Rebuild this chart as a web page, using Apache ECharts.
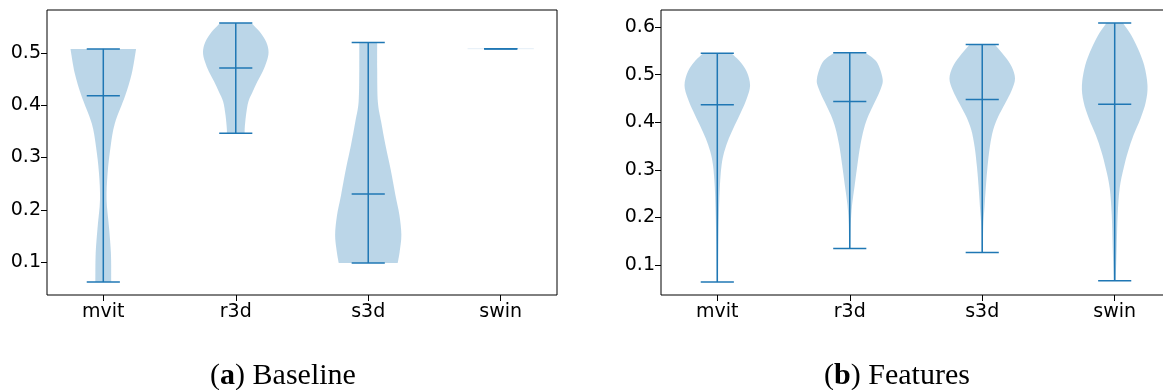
<!DOCTYPE html>
<html>
<head>
<meta charset="utf-8">
<script src="https://cdn.jsdelivr.net/npm/echarts@6/dist/echarts.min.js"></script>
<style>
  html, body { margin: 0; padding: 0; background: #fff; }
  #chart { width: 1163px; height: 390px; }
  #dbg { position: absolute; left: 0; top: 0; font: 10px monospace; color: red; white-space: pre; }
</style>
</head>
<body>
<div id="chart"></div>
<div id="dbg"></div>
<script>
// ---------------- DATA ----------------
const categories = ['mvit', 'r3d', 's3d', 'swin'];

// Panel (a) Baseline: min / mean / max per model
const baselineMin  = [0.0618, 0.3461, 0.0981, 0.508];
const baselineMean = [0.4179, 0.4710, 0.2300, 0.508];
const baselineMax  = [0.5076, 0.5572, 0.5197, 0.508];

// Panel (b) Features: min / mean / max per model
const featuresMin  = [0.0643, 0.1348, 0.1264, 0.0671];
const featuresMean = [0.4365, 0.4434, 0.4476, 0.4378];
const featuresMax  = [0.5447, 0.5460, 0.5629, 0.6084];

// Violin outlines: [value, relative half-width (1 = widest)], from top to bottom
const baselineMvit = [[0.5076,0.99],[0.4606,0.86],[0.4179,0.66],[0.3652,0.35],[0.3206,0.22],[0.2698,0.13],[0.2189,0.10],[0.1680,0.17],[0.1172,0.23],[0.0618,0.24]];
const baselineR3d  = [[0.5572,0.47],[0.540,0.73],[0.521,0.92],[0.5019,0.99],[0.4828,0.93],[0.4637,0.81],[0.4446,0.65],[0.4256,0.51],[0.4065,0.38],[0.3811,0.31],[0.3556,0.27],[0.3461,0.27]];
const baselineS3d  = [[0.5197,0.27],[0.4701,0.27],[0.4065,0.29],[0.3683,0.39],[0.3238,0.52],[0.2793,0.67],[0.2284,0.82],[0.1903,0.94],[0.1521,1.0],[0.1203,0.95],[0.0981,0.89]];
const baselineSwin = [[0.508,1.0],[0.508,1.0]];

const featuresMvit = [[0.5447,0.43],[0.5267,0.69],[0.5057,0.89],[0.4778,0.99],[0.4499,0.89],[0.4219,0.72],[0.3940,0.53],[0.3661,0.35],[0.3381,0.21],[0.3102,0.13],[0.2683,0.08],[0.2124,0.05],[0.1426,0.03],[0.0643,0.02]];
const featuresR3d  = [[0.5460,0.47],[0.5267,0.81],[0.4918,0.99],[0.4708,0.94],[0.4429,0.76],[0.4150,0.57],[0.3870,0.43],[0.3521,0.32],[0.3102,0.23],[0.2683,0.15],[0.2264,0.07],[0.1845,0.03],[0.1348,0.02]];
const featuresS3d  = [[0.5629,0.38],[0.5372,0.69],[0.5162,0.89],[0.4918,0.99],[0.4673,0.89],[0.4394,0.69],[0.4115,0.48],[0.3835,0.33],[0.3486,0.23],[0.3067,0.16],[0.2648,0.11],[0.2229,0.07],[0.1810,0.03],[0.1264,0.02]];
const featuresSwin = [[0.6084,0.25],[0.5826,0.50],[0.5546,0.70],[0.5197,0.89],[0.4778,0.99],[0.4429,0.94],[0.4080,0.78],[0.3731,0.57],[0.3381,0.40],[0.3032,0.27],[0.2613,0.15],[0.2055,0.09],[0.1356,0.06],[0.0671,0.03]];

const baselineProfiles = [baselineMvit, baselineR3d, baselineS3d, baselineSwin];
const featuresProfiles = [featuresMvit, featuresR3d, featuresS3d, featuresSwin];

const yTicksBaseline = [0.1, 0.2, 0.3, 0.4, 0.5];
const yTicksFeatures = [0.1, 0.2, 0.3, 0.4, 0.5, 0.6];
const xTicks = [1, 2, 3, 4];

// ---------------- STYLE ----------------
const LINE = '#1f77b4';
const FILL = 'rgba(31,119,180,0.3)';
const TICK_FONT = 'DejaVu Sans';

function yLimits(mins, maxs) {
  const lo = Math.min(...mins), hi = Math.max(...maxs);
  const r = hi - lo;
  return [lo - 0.05 * r, hi + 0.05 * r];
}

// Smooth curve (Catmull-Rom as cubic Beziers) through already-projected pixel points
function curveThrough(pts) {
  let d = '';
  for (let i = 0; i < pts.length - 1; i++) {
    const p0 = pts[i - 1] || pts[i], p1 = pts[i], p2 = pts[i + 1], p3 = pts[i + 2] || pts[i + 1];
    const c1 = [p1[0] + (p2[0] - p0[0]) / 6, p1[1] + (p2[1] - p0[1]) / 6];
    const c2 = [p2[0] - (p3[0] - p1[0]) / 6, p2[1] - (p3[1] - p1[1]) / 6];
    d += ' C' + c1[0].toFixed(2) + ' ' + c1[1].toFixed(2) + ' ' + c2[0].toFixed(2) + ' ' + c2[1].toFixed(2) + ' ' + p2[0].toFixed(2) + ' ' + p2[1].toFixed(2);
  }
  return d;
}

function makeRenderItem(profiles, mins, means, maxs) {
  return function (params, api) {
    const k = params.dataIndex;
    const pos = xTicks[k];
    const prof = profiles[k];
    const half = 0.25, barHalf = 0.125;
    const children = [];
    const flat = prof.every(p => p[0] === prof[0][0]);
    if (flat) {
      const a = api.coord([pos - half, prof[0][0]]);
      const b = api.coord([pos + half, prof[0][0]]);
      children.push({ type: 'line', shape: { x1: a[0], y1: a[1], x2: b[0], y2: b[1] },
        style: { stroke: 'rgba(31,119,180,0.12)', lineWidth: 1 } });
    } else {
      const right = prof.map(p => api.coord([pos + half * p[1], p[0]]));
      const left = prof.slice().reverse().map(p => api.coord([pos - half * p[1], p[0]]));
      const d = 'M' + right[0][0].toFixed(2) + ' ' + right[0][1].toFixed(2) + curveThrough(right) +
        ' L' + left[0][0].toFixed(2) + ' ' + left[0][1].toFixed(2) + curveThrough(left) + ' Z';
      children.push({ type: 'path', shape: { pathData: d }, style: { fill: FILL } });
    }
    const top = api.coord([pos, maxs[k]]);
    const bot = api.coord([pos, mins[k]]);
    children.push({ type: 'line', shape: { x1: top[0], y1: top[1], x2: bot[0], y2: bot[1] },
      style: { stroke: LINE, lineWidth: 1.5 } });
    [mins[k], means[k], maxs[k]].forEach(v => {
      const a = api.coord([pos - barHalf, v]);
      const b = api.coord([pos + barHalf, v]);
      children.push({ type: 'line', shape: { x1: a[0], y1: a[1], x2: b[0], y2: b[1] },
        style: { stroke: LINE, lineWidth: 1.5 } });
    });
    return { type: 'group', children };
  };
}

const limA = yLimits(baselineMin, baselineMax);
const limB = yLimits(featuresMin, featuresMax);

function xAxisFor(gridIndex) {
  return {
    type: 'value', gridIndex, min: 0.575, max: 4.425,
    axisLine: { show: false },
    splitLine: { show: false },
    axisTick: { show: true, customValues: xTicks, length: 6, inside: false, lineStyle: { color: '#000', width: 1 } },
    axisLabel: { show: true, customValues: xTicks, margin: 8, color: '#000', fontFamily: TICK_FONT, fontSize: 19,
      formatter: v => categories[Math.round(v) - 1] || '' }
  };
}
function yAxisFor(gridIndex, lim, ticks) {
  return {
    type: 'value', gridIndex, min: lim[0], max: lim[1],
    axisLine: { show: false },
    splitLine: { show: false },
    axisTick: { show: true, customValues: ticks, length: 6, lineStyle: { color: '#000', width: 1 } },
    axisLabel: { show: true, customValues: ticks, margin: 6, color: '#000', fontFamily: TICK_FONT, fontSize: 19,
      formatter: v => v.toFixed(1) }
  };
}

const option = {
  animation: false,
  backgroundColor: '#fff',
  grid: [
    { left: 47, top: 10, width: 510, height: 285, outerBoundsMode: 'none', containLabel: false, show: true, borderColor: '#000', borderWidth: 1, backgroundColor: 'transparent' },
    { left: 661, top: 10, width: 510, height: 285, outerBoundsMode: 'none', containLabel: false, show: true, borderColor: '#000', borderWidth: 1, backgroundColor: 'transparent' }
  ],
  xAxis: [xAxisFor(0), xAxisFor(1)],
  yAxis: [yAxisFor(0, limA, yTicksBaseline), yAxisFor(1, limB, yTicksFeatures)],
  graphic: [
    { type: 'text', x: 283, y: 376,
      style: { text: '{p|(}{b|a}{p|) Baseline}', align: 'center', verticalAlign: 'middle',
        rich: { p: { fontFamily: 'Liberation Serif', fontSize: 30, fill: '#000' },
                b: { fontFamily: 'Liberation Serif', fontSize: 30, fontWeight: 'bold', fill: '#000' } } } },
    { type: 'text', x: 897, y: 376,
      style: { text: '{p|(}{b|b}{p|) Features}', align: 'center', verticalAlign: 'middle',
        rich: { p: { fontFamily: 'Liberation Serif', fontSize: 30, fill: '#000' },
                b: { fontFamily: 'Liberation Serif', fontSize: 30, fontWeight: 'bold', fill: '#000' } } } }
  ],
  series: [
    { type: 'custom', xAxisIndex: 0, yAxisIndex: 0, clip: false,
      renderItem: makeRenderItem(baselineProfiles, baselineMin, baselineMean, baselineMax),
      data: xTicks.map((x, i) => [x, baselineMean[i]]) },
    { type: 'custom', xAxisIndex: 1, yAxisIndex: 1, clip: false,
      renderItem: makeRenderItem(featuresProfiles, featuresMin, featuresMean, featuresMax),
      data: xTicks.map((x, i) => [x, featuresMean[i]]) }
  ]
};

try {
  const chart = echarts.init(document.getElementById('chart'), null, { renderer: 'canvas' });
  chart.setOption(option);
} catch (e) {
  document.getElementById('dbg').textContent = String(e && e.stack || e).slice(0, 800);
}
</script>
</body>
</html>
